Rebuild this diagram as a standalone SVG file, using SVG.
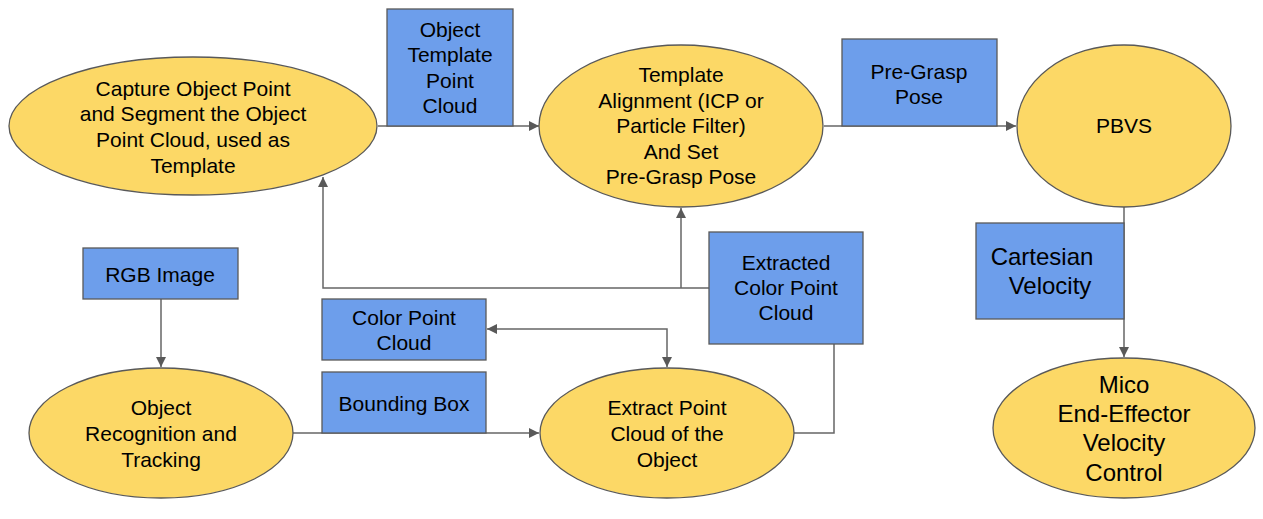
<svg xmlns="http://www.w3.org/2000/svg" width="1263" height="519" viewBox="0 0 1263 519">
<defs>
<marker id="ah" viewBox="0 0 10 10" refX="10" refY="5" markerWidth="10" markerHeight="10" markerUnits="userSpaceOnUse" orient="auto-start-reverse">
<path d="M0,0 L10,5 L0,10 z" fill="#595959"/>
</marker>
<style>
.el{fill:#fcd866;stroke:#595959;stroke-width:1.3}
.bx{fill:#6d9eeb;stroke:#595959;stroke-width:1.3}
.cn{fill:none;stroke:#666666;stroke-width:1.5}
text{font-family:"Liberation Sans",Arial,sans-serif;font-size:21px;fill:#000;text-anchor:middle}
.big{font-size:24px}
</style>
</defs>
<rect width="1263" height="519" fill="#ffffff"/>
<g id="connectors">
<path class="cn" d="M378,126 H539" marker-end="url(#ah)"/>
<path class="cn" d="M824,126 H1016" marker-end="url(#ah)"/>
<path class="cn" d="M1124,207 V357" marker-end="url(#ah)"/>
<path class="cn" d="M161,299 V367" marker-end="url(#ah)"/>
<path class="cn" d="M293,433 H539" marker-end="url(#ah)"/>
<path class="cn" d="M487,329 H667 V367" marker-start="url(#ah)" marker-end="url(#ah)"/>
<path class="cn" d="M794,433 H834 V344"/>
<path class="cn" d="M709,288 H323 V177" marker-end="url(#ah)"/>
<path class="cn" d="M681,288 V208" marker-end="url(#ah)"/>
</g>
<g id="capture">
<ellipse class="el" cx="193" cy="126" rx="184" ry="69"/>
<text x="193" y="96">Capture Object Point</text>
<text x="193" y="121">and Segment the Object</text>
<text x="193" y="147">Point Cloud, used as</text>
<text x="193" y="173">Template</text>
</g>
<g id="template-cloud">
<rect class="bx" x="387" y="9" width="126" height="117"/>
<text x="450" y="37">Object</text>
<text x="450" y="62">Template</text>
<text x="450" y="88">Point</text>
<text x="450" y="113">Cloud</text>
</g>
<g id="alignment">
<ellipse class="el" cx="681" cy="126" rx="142" ry="81"/>
<text x="681" y="82">Template</text>
<text x="681" y="108">Alignment (ICP or</text>
<text x="681" y="133">Particle Filter)</text>
<text x="681" y="159">And Set</text>
<text x="681" y="184">Pre-Grasp Pose</text>
</g>
<g id="pregrasp">
<rect class="bx" x="842" y="39" width="155" height="87"/>
<text x="919" y="79">Pre-Grasp</text>
<text x="919" y="104">Pose</text>
</g>
<g id="pbvs">
<ellipse class="el" cx="1124" cy="126" rx="107" ry="81"/>
<text x="1124" y="133">PBVS</text>
</g>
<g id="cartesian">
<rect class="bx" x="976" y="223" width="148" height="96"/>
<text class="big" x="1042" y="265">Cartesian</text>
<text class="big" x="1050" y="294">Velocity</text>
</g>
<g id="mico">
<ellipse class="el" cx="1124" cy="428" rx="131" ry="70"/>
<text class="big" x="1124" y="393">Mico</text>
<text class="big" x="1124" y="422">End-Effector</text>
<text class="big" x="1124" y="451">Velocity</text>
<text class="big" x="1124" y="481">Control</text>
</g>
<g id="rgb">
<rect class="bx" x="83" y="248" width="155" height="51"/>
<text x="160" y="282">RGB Image</text>
</g>
<g id="recognition">
<ellipse class="el" cx="161" cy="433" rx="132" ry="65"/>
<text x="161" y="415">Object</text>
<text x="161" y="441">Recognition and</text>
<text x="161" y="467">Tracking</text>
</g>
<g id="color-cloud">
<rect class="bx" x="322" y="299" width="164" height="61"/>
<text x="404" y="325">Color Point</text>
<text x="404" y="350">Cloud</text>
</g>
<g id="bounding">
<rect class="bx" x="322" y="372" width="164" height="61"/>
<text x="404" y="411">Bounding Box</text>
</g>
<g id="extract">
<ellipse class="el" cx="667" cy="433" rx="127" ry="65"/>
<text x="667" y="415">Extract Point</text>
<text x="667" y="441">Cloud of the</text>
<text x="667" y="467">Object</text>
</g>
<g id="extracted-cloud">
<rect class="bx" x="709" y="232" width="154" height="112"/>
<text x="786" y="270">Extracted</text>
<text x="786" y="295">Color Point</text>
<text x="786" y="320">Cloud</text>
</g>
</svg>
